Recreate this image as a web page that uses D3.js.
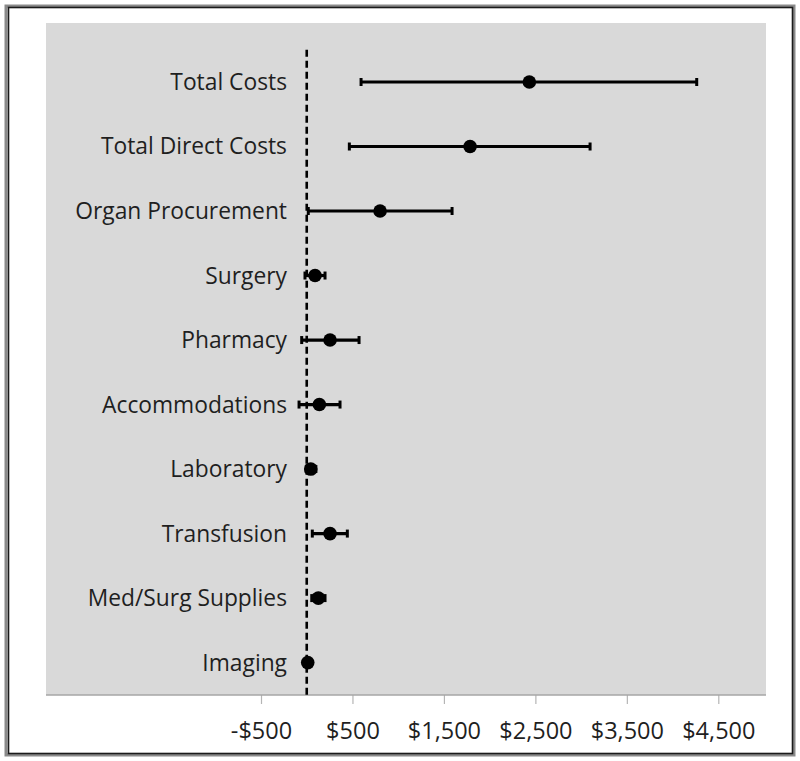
<!DOCTYPE html>
<html>
<head>
<meta charset="utf-8">
<script src="https://cdn.jsdelivr.net/npm/d3@7"></script>
<style>
  html, body { margin: 0; padding: 0; background: #ffffff; }
  svg { display: block; }
</style>
</head>
<body>
<svg id="chart" width="800" height="761"></svg>
<script>
// ---- Data ----
const categories = ["Total Costs", "Total Direct Costs", "Organ Procurement", "Surgery", "Pharmacy",
  "Accommodations", "Laboratory", "Transfusion", "Med/Surg Supplies", "Imaging"];
const estimates = [2434, 1786, 802, 91, 255, 138, 44, 255, 127, 11];
const lowerCI   = [594, 466, 17, -19, -55, -84, -5, 61, 55, -8];
const upperCI   = [4264, 3098, 1589, 200, 572, 364, 100, 444, 200, 25];
const tickValues = [-500, 500, 1500, 2500, 3500, 4500];
const tickLabels = ["-$500", "$500", "$1,500", "$2,500", "$3,500", "$4,500"];

// ---- Layout ----
const svg = d3.select("#chart");
const plot = { left: 46, right: 766, top: 23, bottom: 695 };
const fontFam = "'Open Sans', sans-serif";
const textColor = "#1f1f1f";

const x = d3.scaleLinear().domain([-500, 4500]).range([261, 718.3]);
const y = d3.scaleLinear().domain([0, categories.length - 1]).range([82, 662.6]);

// outer frame
svg.append("rect").attr("x", 6).attr("y", 6).attr("width", 788).attr("height", 749)
  .attr("fill", "none").attr("stroke", "#8a8a8a").attr("stroke-width", 3);
svg.append("rect").attr("x", 8.5).attr("y", 7.5).attr("width", 784).attr("height", 746)
  .attr("fill", "none").attr("stroke", "#1a1a1a").attr("stroke-width", 1.6);

// plot area
svg.append("rect").attr("x", plot.left).attr("y", plot.top)
  .attr("width", plot.right - plot.left).attr("height", plot.bottom - plot.top)
  .attr("fill", "#d9d9d9");

// x axis
const xAxis = d3.axisBottom(x).tickValues(tickValues)
  .tickFormat((d, i) => tickLabels[i]).tickSizeInner(9).tickSizeOuter(0).tickPadding(18);
const gx = svg.append("g").attr("transform", `translate(0,${plot.bottom})`).call(xAxis);
gx.select(".domain").remove();
gx.selectAll(".tick line").attr("stroke", "#b5b5b5").attr("stroke-width", 1.2);
gx.selectAll(".tick text").attr("font-family", fontFam).attr("font-size", 23.5)
  .attr("fill", textColor);
svg.append("line").attr("x1", plot.left).attr("x2", plot.right)
  .attr("y1", plot.bottom).attr("y2", plot.bottom)
  .attr("stroke", "#a6a6a6").attr("stroke-width", 1.5);

// zero reference line
svg.append("line").attr("x1", x(0)).attr("x2", x(0))
  .attr("y1", y(-0.5)).attr("y2", plot.bottom)
  .attr("stroke", "#000").attr("stroke-width", 2.6).attr("stroke-dasharray", "7,4");

// category labels
svg.append("g").selectAll("text").data(categories).join("text")
  .attr("x", 287).attr("y", (d, i) => y(i)).attr("dy", "0.35em")
  .attr("text-anchor", "end").attr("font-family", fontFam).attr("font-size", 22.8)
  .attr("fill", textColor).text(d => d);

// error bars
const g = svg.append("g");
categories.forEach((c, i) => {
  const yy = y(i);
  g.append("line").attr("x1", x(lowerCI[i])).attr("x2", x(upperCI[i]))
    .attr("y1", yy).attr("y2", yy).attr("stroke", "#000").attr("stroke-width", 3.2);
  [lowerCI[i], upperCI[i]].forEach(v => {
    g.append("line").attr("x1", x(v)).attr("x2", x(v))
      .attr("y1", yy - 4).attr("y2", yy + 4).attr("stroke", "#000").attr("stroke-width", 3);
  });
  g.append("circle").attr("cx", x(estimates[i])).attr("cy", yy).attr("r", 6.8).attr("fill", "#000");
});
</script>
</body>
</html>
